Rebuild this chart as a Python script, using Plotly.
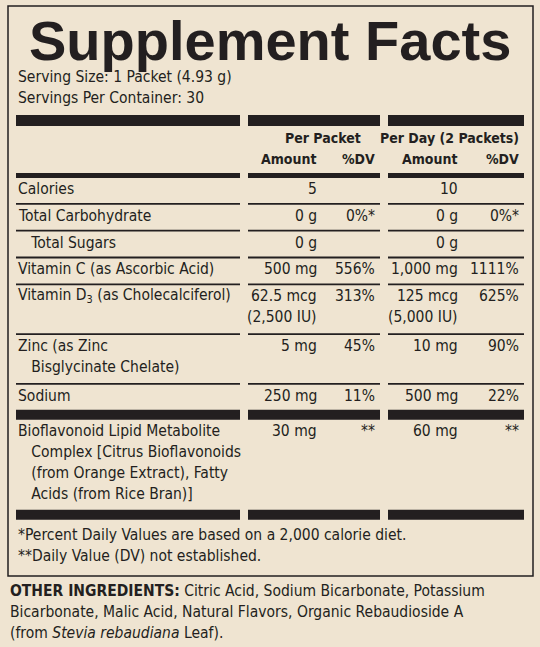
import plotly.graph_objects as go

# label content
title = "Supplement Facts"
serving_lines = ["Serving Size: 1 Packet (4.93 g)", "Servings Per Container: 30"]

nutrients = [
    ["Calories"],
    ["Total Carbohydrate"],
    ["   Total Sugars"],
    ["Vitamin C (as Ascorbic Acid)"],
    ["Vitamin D<sub>3</sub> (as Cholecalciferol)"],
    ["Zinc (as Zinc", "   Bisglycinate Chelate)"],
    ["Sodium"],
    ["Bioflavonoid Lipid Metabolite", "   Complex [Citrus Bioflavonoids", "   (from Orange Extract), Fatty", "   Acids (from Rice Bran)]"],
]
packet_amount = [["5"], ["0 g"], ["0 g"], ["500 mg"], ["62.5 mcg", "(2,500 IU)"], ["5 mg"], ["250 mg"], ["30 mg"]]
packet_dv = ["", "0%*", "", "556%", "313%", "45%", "11%", "**"]
day_amount = [["10"], ["0 g"], ["0 g"], ["1,000 mg"], ["125 mcg", "(5,000 IU)"], ["10 mg"], ["500 mg"], ["60 mg"]]
day_dv = ["", "0%*", "", "1111%", "625%", "90%", "22%", "**"]
thick_after = [False, False, False, False, False, False, True, True]

footnotes = ["*Percent Daily Values are based on a 2,000 calorie diet.",
             "**Daily Value (DV) not established."]
other_ingredients = [
    "<b>OTHER INGREDIENTS:</b> Citric Acid, Sodium Bicarbonate, Potassium",
    "Bicarbonate, Malic Acid, Natural Flavors, Organic Rebaudioside A",
    "(from <i>Stevia rebaudiana</i> Leaf).",
]

INK = "#231f20"
BG = "#efe4d1"
FONT = "Liberation Sans Narrow, DejaVu Sans Condensed, Liberation Sans"
cols = [(16, 240), (248, 380), (388, 524)]
LH = 21

shapes = []
annotations = []


def text(x, y, s, anchor="left", size=15.5, bold=False):
    if not s:
        return
    annotations.append(dict(x=x, y=y, text=f"<b>{s}</b>" if bold else s, showarrow=False,
                            xanchor=anchor, yanchor="middle",
                            font=dict(family=FONT, size=size, color=INK)))


def bar(y0, y1):
    for a, b in cols:
        shapes.append(dict(type="rect", x0=a, x1=b, y0=y0, y1=y1,
                           fillcolor=INK, line=dict(width=0)))


# outer box
shapes.append(dict(type="rect", x0=8, x1=533, y0=6, y1=576,
                   line=dict(color=INK, width=1.5), fillcolor="rgba(0,0,0,0)"))

annotations.append(dict(x=270, y=40, text=f"<b>{title}</b>", showarrow=False,
                        xanchor="center", yanchor="middle",
                        font=dict(family="Liberation Sans", size=56, color=INK)))
for i, s in enumerate(serving_lines):
    text(16, 77 + i * 21, s)

bar(115, 126)
text(323, 138, "Per Packet", "center", size=14, bold=True)
text(521, 138, "Per Day (2 Packets)", "right", size=14, bold=True)
text(319, 159, "Amount", "right", size=14, bold=True)
text(377, 159, "%DV", "right", size=14, bold=True)
text(460, 159, "Amount", "right", size=14, bold=True)
text(521, 159, "%DV", "right", size=14, bold=True)
bar(173, 178)

top = 178
for i, name in enumerate(nutrients):
    n = max(len(name), len(packet_amount[i]))
    cy = top + 11
    for k, s in enumerate(name):
        text(16, cy + k * LH, s.replace(" ", "&nbsp;") if s.startswith(" ") else s)
    for k, s in enumerate(packet_amount[i]):
        text(319, cy + k * LH, s, "right")
    for k, s in enumerate(day_amount[i]):
        text(460, cy + k * LH, s, "right")
    text(377, cy, packet_dv[i], "right")
    text(521, cy, day_dv[i], "right")
    bottom = top + LH * n + 6 - (2 if n == 1 else 0)
    if thick_after[i]:
        bar(bottom, bottom + 10)
        top = bottom + 10
    else:
        bar(bottom, bottom + 1.8)
        top = bottom + 1.8

for i, s in enumerate(footnotes):
    text(16, top + 15 + i * 21, s)
for i, s in enumerate(other_ingredients):
    text(8, 591 + i * 21, s)

fig = go.Figure()
fig.update_layout(
    width=540, height=647, margin=dict(l=0, r=0, t=0, b=0),
    paper_bgcolor=BG, plot_bgcolor=BG, showlegend=False,
    xaxis=dict(range=[0, 540], visible=False, fixedrange=True),
    yaxis=dict(range=[647, 0], visible=False, fixedrange=True),
    shapes=shapes, annotations=annotations,
)
fig.write_html("out.html", config={"displayModeBar": False},
               post_script="document.body.style.margin='0';document.body.style.overflow='hidden';")
